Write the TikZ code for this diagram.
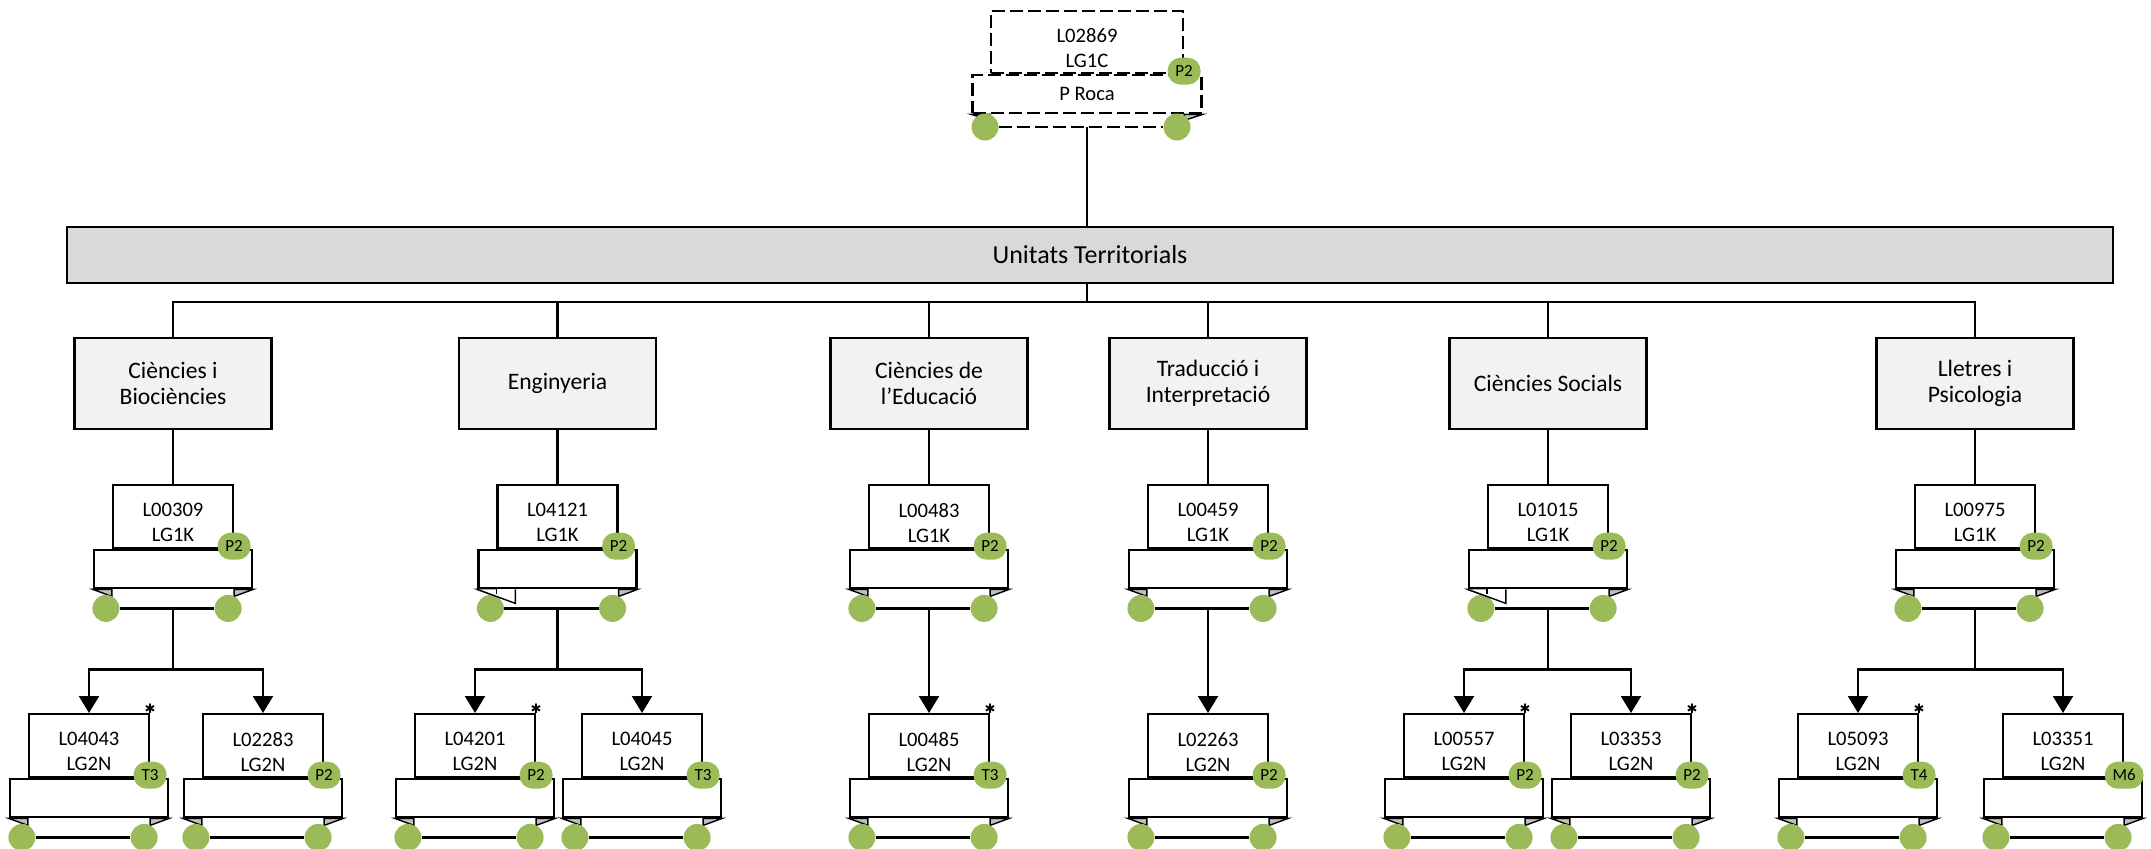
\documentclass[tikz,border=0pt]{standalone}
\usepackage{fontspec}
\setmainfont{Carlito}
\newfontfamily\symfont{DejaVu Sans}
\usetikzlibrary{arrows.meta,positioning,calc}
\definecolor{ugreen}{RGB}{155,187,89}
\definecolor{udept}{RGB}{242,242,242}
\definecolor{ubar}{RGB}{217,217,217}
\definecolor{ufold}{RGB}{191,191,191}
\tikzset{
  post/.style   ={rectangle, draw, line width=1.1pt, fill=white, minimum width=60pt,
                  minimum height=31.5pt, inner sep=0pt},
  posttxt/.style={font=\fontsize{10.3}{12.5}\selectfont, align=center, yshift=-3pt, inner sep=0pt},
  band/.style   ={rectangle, draw, line width=1.1pt, fill=white, minimum width=79pt,
                  minimum height=19pt, inner sep=0pt, font=\fontsize{10.3}{12.5}\selectfont},
  dot/.style    ={circle, fill=ugreen, minimum size=13.5pt, inner sep=0pt},
  tag/.style    ={rectangle, rounded corners=6.5pt, fill=ugreen, minimum width=16.5pt,
                  minimum height=13.5pt, inner xsep=3.9pt, inner ysep=0pt,
                  font=\fontsize{8.5}{10}\selectfont},
  starmark/.style={inner sep=0pt, font=\symfont\fontsize{6.5}{6.5}\selectfont},
  dept/.style   ={rectangle, draw, line width=1.1pt, fill=udept, minimum width=98.5pt,
                  minimum height=45.5pt, align=center, font=\fontsize{11.8}{13}\selectfont},
  bar/.style    ={rectangle, draw, line width=1.1pt, fill=ubar, minimum width=1023pt,
                  minimum height=28pt, font=\fontsize{13}{15}\selectfont},
  link/.style   ={draw, line width=1.1pt},
  arr/.style    ={link, -{Triangle[width=10pt,length=8.5pt]}},
  fold/.style   ={draw, line width=0.7pt, fill=ufold},
  vac/.style    ={dash pattern=on 6.5pt off 2.5pt}
}
% one post: name, x, top, code, grade, tag
\newcommand\postbox[6]{%
  \node[post, anchor=north, label={[posttxt]center:{#4\\#5}}] (#1) at (#2,#3) {};
  \node[band, anchor=north] (#1b) at (#1.south) {};
  \draw[fold] (#1b.south west) -- (#1b.south west -| #1.west) -- ++(0,7) -- cycle;
  \draw[fold] (#1b.south east) -- (#1b.south east -| #1.east) -- ++(0,7) -- cycle;
  \coordinate (#1c) at ($(#1b.south)+(0,19)$);
  \node[dot] (#1l) at ($(#1b.south -| #1.west)+(-6,19)$) {};
  \node[dot] (#1r) at ($(#1b.south -| #1.east)+(-6,19)$) {};
  \draw[link] (#1l) -- (#1r);
  \node[tag] (#1t) at ($(#1.south east)+(0,-3)$) {#6};
}
\newcommand\poststar[1]{\node[starmark] (#1s) at ($(#1.north east)+(0,-4)$) {✱};}
\newcommand\widefold[1]{%
  \draw[link, line width=0.7pt, fill=white] (#1b.south west) -- ++(38,14) -- ++(0,-14);
  \draw[link, line width=0.7pt] (#1b.south -| #1.west) -- ++(0,5);}

\begin{document}
\begin{tikzpicture}[x=0.5pt, y=-0.5pt]
\useasboundingbox (0,0) rectangle (2151,848);

% head of the units
\node[post, vac, minimum width=96pt, minimum height=31pt, anchor=north,
      label={[posttxt]center:{L02869\\LG1C}}] (l02869) at (1087,10) {};
\node[band, vac, minimum width=114.5pt, anchor=north] (l02869b) at (l02869.south) {P Roca};
\draw[fold] (l02869b.south west) -- (l02869b.south west -| l02869.west) -- ++(0,6) -- cycle;
\draw[fold] (l02869b.south east) -- (l02869b.south east -| l02869.east) -- ++(0,6) -- cycle;
\coordinate (l02869c) at (1087,127);
\node[dot] (l02869l) at (985,127) {};
\node[dot] (l02869r) at (1177,127) {};
\draw[link, vac] (l02869l) -- (l02869r);
\node[tag] (l02869t) at ($(l02869.south east)+(0,-3)$) {P2};

\node[bar] (ut) at (1090,255) {Unitats Territorials};
\draw[link] (l02869c) -- (l02869c |- ut.north);
\coordinate (hub) at (1087,302);
\draw[link] (l02869c |- ut.south) -- (hub);

% faculties
\node[dept] (dcb) at (173,383.5)  {Ciències i\\Biociències};
\node[dept] (deng) at (557.5,383.5) {Enginyeria};
\node[dept] (dedu) at (929,383.5)  {Ciències de\\l’Educació};
\node[dept] (dtra) at (1208,383.5) {Traducció i\\Interpretació};
\node[dept] (dsoc) at (1548,383.5) {Ciències Socials};
\node[dept] (dlle) at (1975,383.5) {Lletres i\\Psicologia};
\foreach \d in {dcb,deng,dedu,dtra,dsoc,dlle}
  \draw[link] (hub) -| (\d.north);

% heads of faculty
\postbox{l00309}{173}{484}{L00309}{LG1K}{P2}
\postbox{l04121}{557.5}{484}{L04121}{LG1K}{P2}
\postbox{l00483}{929}{484}{L00483}{LG1K}{P2}
\postbox{l00459}{1208}{484}{L00459}{LG1K}{P2}
\postbox{l01015}{1548}{484}{L01015}{LG1K}{P2}
\postbox{l00975}{1975}{484}{L00975}{LG1K}{P2}
\widefold{l04121}
\widefold{l01015}
\draw[link] (dcb) -- (l00309);
\draw[link] (deng) -- (l04121);
\draw[link] (dedu) -- (l00483);
\draw[link] (dtra) -- (l00459);
\draw[link] (dsoc) -- (l01015);
\draw[link] (dlle) -- (l00975);

% staff
\postbox{l04043}{89}{713}{L04043}{LG2N}{T3}
\postbox{l02283}{263}{713}{L02283}{LG2N}{P2}
\postbox{l04201}{475}{713}{L04201}{LG2N}{P2}
\postbox{l04045}{642}{713}{L04045}{LG2N}{T3}
\postbox{l00485}{929}{713}{L00485}{LG2N}{T3}
\postbox{l02263}{1208}{713}{L02263}{LG2N}{P2}
\postbox{l00557}{1464}{713}{L00557}{LG2N}{P2}
\postbox{l03353}{1631}{713}{L03353}{LG2N}{P2}
\postbox{l05093}{1858}{713}{L05093}{LG2N}{T4}
\postbox{l03351}{2063}{713}{L03351}{LG2N}{M6}
\poststar{l04043}
\poststar{l04201}
\poststar{l00485}
\poststar{l00557}
\poststar{l03353}
\poststar{l05093}

\draw[arr] (l00309c) -- ++(0,61) -| (l04043);
\draw[arr] (l00309c) -- ++(0,61) -| (l02283);
\draw[arr] (l04121c) -- ++(0,61) -| (l04201);
\draw[arr] (l04121c) -- ++(0,61) -| (l04045);
\draw[arr] (l00483c) -- (l00485);
\draw[arr] (l00459c) -- (l02263);
\draw[arr] (l01015c) -- ++(0,61) -| (l00557);
\draw[arr] (l01015c) -- ++(0,61) -| (l03353);
\draw[arr] (l00975c) -- ++(0,61) -| (l05093);
\draw[arr] (l00975c) -- ++(0,61) -| (l03351);
\end{tikzpicture}
\end{document}
